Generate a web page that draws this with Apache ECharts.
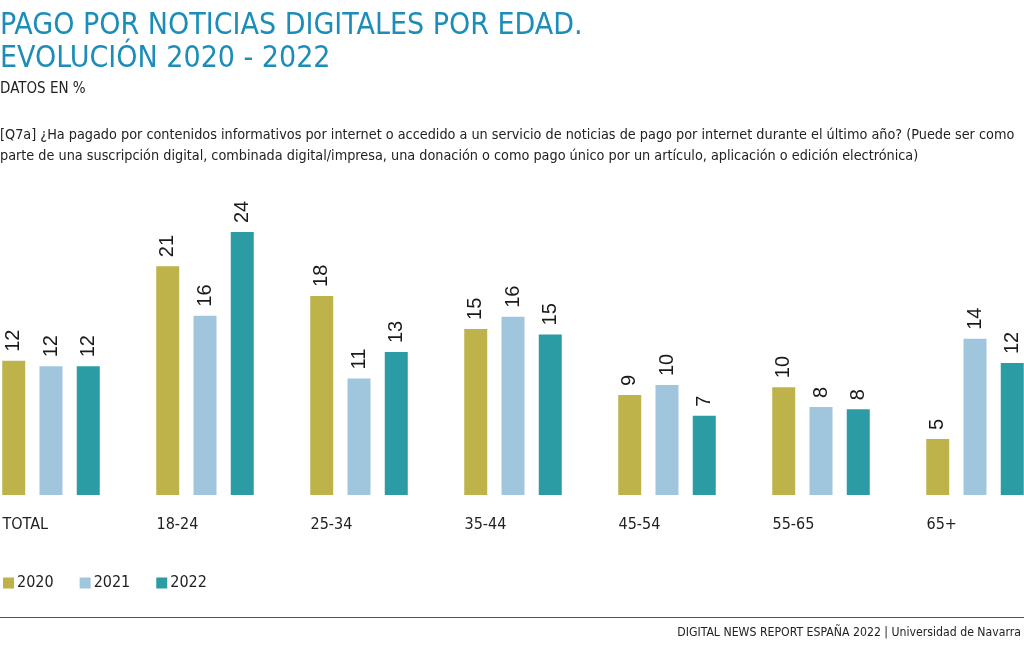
<!DOCTYPE html>
<html>
<head>
<meta charset="utf-8">
<script src="https://cdn.jsdelivr.net/npm/echarts@6/dist/echarts.min.js"></script>
<style>
html,body{margin:0;padding:0;background:#fff;}
#chart{width:1024px;height:645px;}
</style>
</head>
<body>
<div id="chart"></div>
<script>
const categories = ['TOTAL', '18-24', '25-34', '35-44', '45-54', '55-65', '65+'];
const seriesNames = ['2020', '2021', '2022'];
const values2020 = [12.2, 20.8, 18.1, 15.1, 9.1, 9.8, 5.1];
const values2021 = [11.7, 16.3, 10.6, 16.2, 10.0, 8.0, 14.2];
const values2022 = [11.7, 23.9, 13.0, 14.6, 7.2, 7.8, 12.0];
const colors = ['#bdb34a', '#a0c6dd', '#2b9ca4'];

const titleLine1 = 'PAGO POR NOTICIAS DIGITALES POR EDAD.';
const titleLine2 = 'EVOLUCIÓN 2020 - 2022';
const unitText = 'DATOS EN %';
const questionText = '[Q7a] ¿Ha pagado por contenidos informativos por internet o accedido a un servicio de noticias de pago por internet durante el último año? (Puede ser como\nparte de una suscripción digital, combinada digital/impresa, una donación o como pago único por un artículo, aplicación o edición electrónica)';
const footerText = 'DIGITAL NEWS REPORT ESPAÑA 2022 | Universidad de Navarra';

const condensed = '"Liberation Sans Narrow", "DejaVu Sans Condensed", "Roboto Condensed", sans-serif';
const chart = echarts.init(document.getElementById('chart'));

const allValues = [values2020, values2021, values2022];
const series = seriesNames.map((name, i) => ({
  name: name,
  type: 'bar',
  data: allValues[i],
  barWidth: 23,
  barGap: '62%',
  itemStyle: { color: colors[i] },
  label: {
    show: true,
    position: 'top',
    rotate: 90,
    align: 'left',
    verticalAlign: 'middle',
    distance: 9,
    fontFamily: '"Liberation Sans", Arial, sans-serif',
    fontSize: 20,
    color: '#1a1a1a',
    formatter: p => String(Math.round(p.value))
  }
}));

chart.setOption({
  animation: false,
  backgroundColor: '#ffffff',
  title: [
    { text: titleLine1 + '\n' + titleLine2, left: 0, top: 10, padding: 0,
      textStyle: { fontFamily: condensed, fontSize: 30, fontWeight: 'normal', color: '#1b8db8', lineHeight: 33 } },
    { text: unitText, left: 0, top: 80, padding: 0,
      textStyle: { fontFamily: condensed, fontSize: 15, fontWeight: 'normal', color: '#222', lineHeight: 18 } },
    { text: questionText, left: 0, top: 125, padding: 0,
      textStyle: { fontFamily: condensed, fontSize: 14.3, fontWeight: 'normal', color: '#222', lineHeight: 21 } },
    { text: footerText, right: 3, top: 627, padding: 0,
      textStyle: { fontFamily: condensed, fontSize: 12.2, fontWeight: 'normal', color: '#222' } }
  ],
  legend: {
    left: 3, top: 575, padding: 0,
    icon: 'rect', itemWidth: 11, itemHeight: 11, itemGap: 26,
    textStyle: { fontFamily: condensed, fontSize: 16, color: '#222', padding: [0, 0, 0, -2] },
    data: seriesNames
  },
  grid: { left: -26, right: -28, top: 165, bottom: 150, containLabel: false, outerBoundsMode: 'none' },
  xAxis: {
    type: 'category',
    data: categories,
    axisLine: { show: false },
    axisTick: { show: false },
    axisLabel: {
      margin: 22,
      align: 'center',
      formatter: v => '{a|' + v + '}',
      rich: { a: { width: 97, align: 'left', fontFamily: condensed, fontSize: 16, color: '#222' } }
    }
  },
  yAxis: {
    type: 'value', min: 0, max: 30, interval: 10,
    show: false
  },
  graphic: [
    { type: 'line', shape: { x1: 0, y1: 617.5, x2: 1024, y2: 617.5 }, style: { stroke: '#555', lineWidth: 1 } }
  ],
  series: series
});
</script>
</body>
</html>
